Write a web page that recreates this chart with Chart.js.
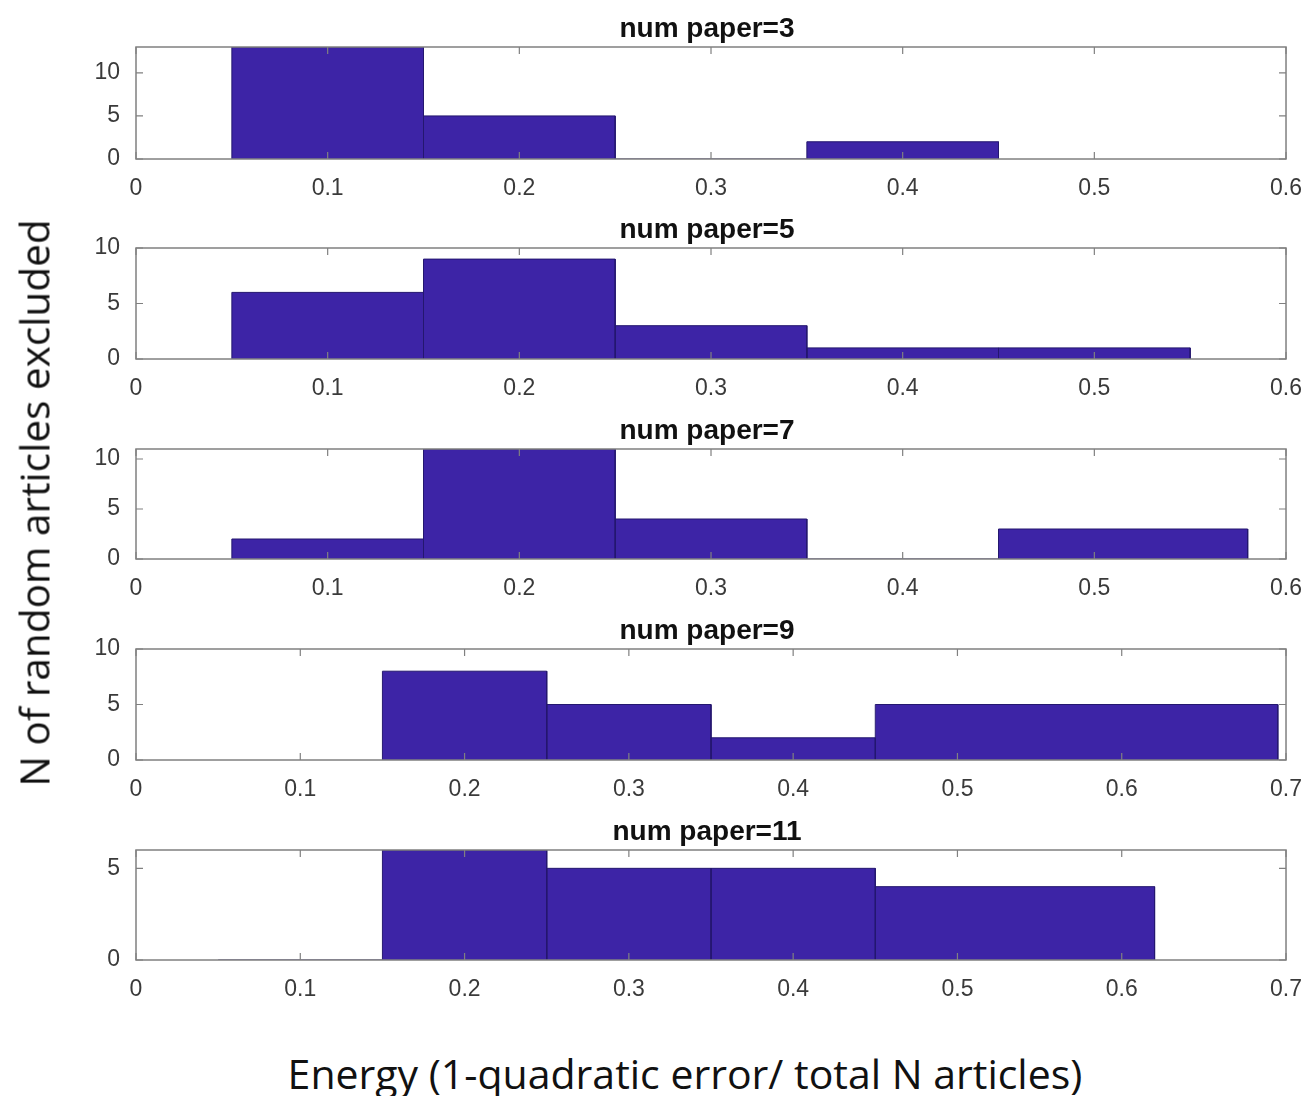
<!DOCTYPE html>
<html>
<head>
<meta charset="utf-8">
<script src="https://cdn.jsdelivr.net/npm/chart.js@4.4.1/dist/chart.umd.min.js"></script>
<style>
    body { margin: 0; background: #fff; }
    #wrap { position: relative; width: 1310px; height: 1096px; overflow: hidden; }
    #wrap canvas { position: absolute; left: 0; }
    .ylab {
        position: absolute; left: 34px; top: 503px;
        transform: translate(-50%, -50%) rotate(-90deg);
        white-space: nowrap; font-family: 'Open Sans', sans-serif; font-size: 40.5px; color: #111;
    }
    .xlab {
        position: absolute; left: 685px; top: 1073px;
        transform: translate(-50%, -50%);
        white-space: nowrap; font-family: 'Open Sans', sans-serif; font-size: 41px; color: #111;
    }
</style>
</head>
<body>
<div id="wrap">
    <canvas id="p0"></canvas>
    <canvas id="p1"></canvas>
    <canvas id="p2"></canvas>
    <canvas id="p3"></canvas>
    <canvas id="p4"></canvas>
    <div class="ylab">N of random articles excluded</div>
    <div class="xlab">Energy (1-quadratic error/ total N articles)</div>
</div>
<script>
// Histogram data
const titles = ['num paper=3', 'num paper=5', 'num paper=7', 'num paper=9', 'num paper=11'];

const edges3 = [0.05, 0.15, 0.25, 0.35, 0.45];
const counts3 = [13, 5, 0, 2];
const edges5 = [0.05, 0.15, 0.25, 0.35, 0.45, 0.55];
const counts5 = [6, 9, 3, 1, 1];
const edges7 = [0.05, 0.15, 0.25, 0.35, 0.45, 0.58];
const counts7 = [2, 11, 4, 0, 3];
const edges9 = [0.15, 0.25, 0.35, 0.45, 0.695];
const counts9 = [8, 5, 2, 5];
const edges11 = [0.05, 0.15, 0.25, 0.35, 0.45, 0.62];
const counts11 = [0, 6, 5, 5, 4];

const xTicks6 = [0, 0.1, 0.2, 0.3, 0.4, 0.5, 0.6];
const xTicks7 = [0, 0.1, 0.2, 0.3, 0.4, 0.5, 0.6, 0.7];
const yTicksA = [0, 5, 10];
const yTicksB = [0, 5];
const yMax = [13, 10, 11, 10, 6];

const panels = [
    { edges: edges3, counts: counts3, xTicks: xTicks6, yTicks: yTicksA },
    { edges: edges5, counts: counts5, xTicks: xTicks6, yTicks: yTicksA },
    { edges: edges7, counts: counts7, xTicks: xTicks6, yTicks: yTicksA },
    { edges: edges9, counts: counts9, xTicks: xTicks7, yTicks: yTicksA },
    { edges: edges11, counts: counts11, xTicks: xTicks7, yTicks: yTicksB }
];

// layout of each axes box on the page
const plotTops = [47, 248, 449, 649, 850];
const plotHeights = [112, 111, 110, 111, 110];
const TOP_PAD = 50;
const X_AXIS_H = 45;

const FILL = '#3d24a6';
const EDGE = '#24176f';
const FRAME = '#808080';
const tickFont = { family: "'Liberation Sans', Arial, sans-serif", size: 23 };

// frame box, inward tick marks and title, MATLAB style
const boxPlugin = {
    id: 'box',
    afterDraw(chart, args, opts) {
        const { ctx, chartArea: a, scales } = chart;
        ctx.save();
        ctx.strokeStyle = FRAME;
        ctx.lineWidth = 1.5;
        ctx.strokeRect(a.left, a.top, a.right - a.left, a.bottom - a.top);
        ctx.lineWidth = 1.2;
        const tl = 7;
        ctx.beginPath();
        scales.x.ticks.forEach(t => {
            const px = scales.x.getPixelForValue(t.value);
            ctx.moveTo(px, a.bottom); ctx.lineTo(px, a.bottom - tl);
            ctx.moveTo(px, a.top); ctx.lineTo(px, a.top + tl);
        });
        scales.y.ticks.forEach(t => {
            const py = scales.y.getPixelForValue(t.value);
            ctx.moveTo(a.left, py); ctx.lineTo(a.left + tl, py);
            ctx.moveTo(a.right, py); ctx.lineTo(a.right - tl, py);
        });
        ctx.stroke();
        ctx.fillStyle = '#111';
        ctx.font = "bold 28px 'Liberation Sans', Arial, sans-serif";
        ctx.textAlign = 'center';
        ctx.textBaseline = 'alphabetic';
        ctx.fillText(opts.text, (a.left + a.right) / 2 - 4, a.top - 10);
        ctx.restore();
    }
};

function binDatasets(edges, counts) {
    return counts.map((c, i) => ({
        data: [
            { x: edges[i], y: 0 },
            { x: edges[i], y: c },
            { x: edges[i + 1], y: c },
            { x: edges[i + 1], y: 0 }
        ],
        showLine: true,
        fill: 'origin',
        backgroundColor: FILL,
        borderColor: EDGE,
        borderWidth: 1,
        pointRadius: 0,
        tension: 0
    }));
}

function makePanel(i) {
    const p = panels[i];
    const canvas = document.getElementById('p' + i);
    canvas.width = 1310;
    canvas.height = TOP_PAD + plotHeights[i] + X_AXIS_H;
    canvas.style.top = (plotTops[i] - TOP_PAD) + 'px';

    new Chart(canvas.getContext('2d'), {
        type: 'scatter',
        data: { datasets: binDatasets(p.edges, p.counts) },
        options: {
            responsive: false,
            animation: false,
            layout: { padding: { top: TOP_PAD, right: 16, left: 0, bottom: 0 } },
            scales: {
                x: {
                    type: 'linear',
                    min: 0,
                    max: p.xTicks[p.xTicks.length - 1],
                    grid: { display: false },
                    border: { display: false },
                    afterBuildTicks: s => { s.ticks = p.xTicks.map(v => ({ value: v })); },
                    afterFit: s => { s.height = X_AXIS_H; },
                    ticks: {
                        font: tickFont,
                        color: '#3a3a3a',
                        padding: 8,
                        maxRotation: 0,
                        callback: v => String(Number(v.toFixed(1)))
                    }
                },
                y: {
                    min: 0,
                    max: yMax[i],
                    grid: { display: false },
                    border: { display: false },
                    afterBuildTicks: s => { s.ticks = p.yTicks.map(v => ({ value: v })); },
                    afterFit: s => { s.width = 136; },
                    ticks: {
                        font: tickFont,
                        color: '#3a3a3a',
                        padding: 8
                    }
                }
            },
            plugins: {
                legend: { display: false },
                tooltip: { enabled: false },
                box: { text: titles[i] }
            }
        },
        plugins: [boxPlugin]
    });
}

document.addEventListener('DOMContentLoaded', function() {
    for (let i = 0; i < panels.length; i++) {
        makePanel(i);
    }
});
</script>
</body>
</html>
